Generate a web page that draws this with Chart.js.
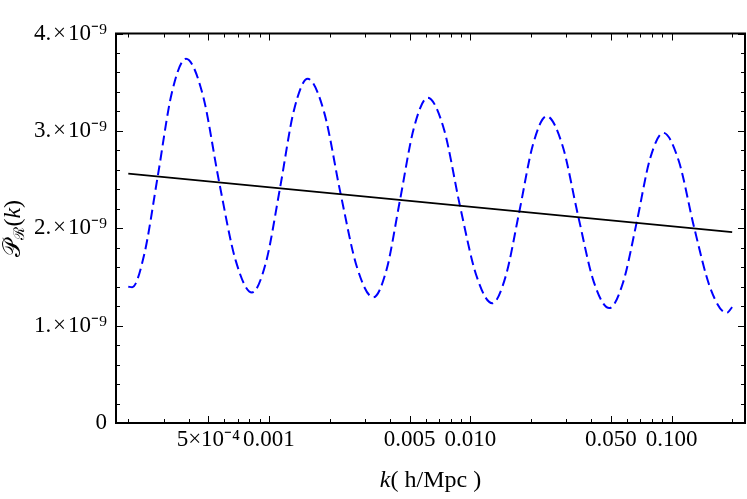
<!DOCTYPE html>
<html>
<head>
<meta charset="utf-8">
<script src="https://cdn.jsdelivr.net/npm/chart.js@4.4.1/dist/chart.umd.min.js"></script>
<style>
  html,body{margin:0;padding:0;background:#fff}
  #wrap{width:747px;height:499px}
</style>
</head>
<body>
<div id="wrap"><canvas id="c" width="747" height="499"></canvas></div>
<script>
// oscillating spectrum (blue dashed)
const kOsc = [2.0e-4, 2.09e-4, 2.40e-4, 2.80e-4, 3.29e-4, 3.87e-4, 4.69e-4, 5.66e-4, 6.83e-4, 8.23e-4,
  9.66e-4, 1.134e-3, 1.330e-3, 1.557e-3, 1.880e-3, 2.271e-3, 2.736e-3, 3.298e-3,
  3.843e-3, 4.476e-3, 5.246e-3, 6.144e-3, 7.394e-3, 8.888e-3, 1.070e-2, 1.286e-2,
  1.501e-2, 1.752e-2, 2.049e-2, 2.396e-2, 2.871e-2, 3.440e-2, 4.107e-2, 4.903e-2,
  5.736e-2, 6.708e-2, 7.809e-2, 9.095e-2, 0.1086, 0.1297, 0.1561, 0.1878, 0.2];
const pOsc = [1.40, 1.395, 1.73, 2.53, 3.39, 3.74, 3.37, 2.47, 1.67, 1.34,
  1.65, 2.41, 3.21, 3.535, 3.19, 2.35, 1.60, 1.29,
  1.58, 2.29, 3.03, 3.34, 3.02, 2.23, 1.52, 1.23,
  1.51, 2.17, 2.86, 3.15, 2.85, 2.12, 1.45, 1.18,
  1.44, 2.06, 2.71, 2.98, 2.69, 2.00, 1.38, 1.13, 1.19].map(v => v * 1e-9);

// smooth power-law spectrum (black)
const kTrend = [2e-4, 2e-3, 2e-2, 0.2];
const pTrend = [2.56e-9, 2.36e-9, 2.16e-9, 1.96e-9];

// axes
const xMajor = [5e-4, 0.001, 0.005, 0.01, 0.05, 0.1];
const xLabels = ['5×10⁻⁴', '0.001', '0.005', '0.010', '0.050', '0.100'];
const xMinor = [2e-4, 3e-4, 4e-4, 6e-4, 7e-4, 8e-4, 9e-4, 2e-3, 3e-3, 4e-3, 6e-3, 7e-3, 8e-3, 9e-3,
  0.02, 0.03, 0.04, 0.06, 0.07, 0.08, 0.09, 0.2];
const yMajor = [0, 1e-9, 2e-9, 3e-9, 4e-9];
const yLabels = ['0', '1.\u200a×\u200a10⁻⁹', '2.\u200a×\u200a10⁻⁹', '3.\u200a×\u200a10⁻⁹', '4.\u200a×\u200a10⁻⁹'];
const yMinor = [2e-10, 4e-10, 6e-10, 8e-10, 1.2e-9, 1.4e-9, 1.6e-9, 1.8e-9, 2.2e-9, 2.4e-9, 2.6e-9,
  2.8e-9, 3.2e-9, 3.4e-9, 3.6e-9, 3.8e-9];
const xMin = 1.738e-4, xMax = 0.2316;

(function(){
  const FONT = '"Liberation Serif", "Times New Roman", serif';

  function near(a, b){ return Math.abs(a - b) <= Math.abs(b) * 1e-6 + 1e-15; }
  function majorIndex(list, v){ return list.findIndex(m => near(v, m)); }
  function allTicks(major, minor){ return major.concat(minor).sort((a,b)=>a-b).map(v=>({value:v})); }

  // inward ticks on all four sides + frame + axis titles
  const frame = {
    id: 'frame',
    afterDraw(chart){
      const {ctx, chartArea: a, scales: {x, y}} = chart;
      ctx.save();
      ctx.strokeStyle = '#000';
      ctx.lineWidth = 1;
      ctx.beginPath();
      x.ticks.forEach(t => {
        const px = Math.round(x.getPixelForValue(t.value)) + 0.5;
        const len = majorIndex(xMajor, t.value) >= 0 ? 7 : 4;
        ctx.moveTo(px, a.bottom); ctx.lineTo(px, a.bottom - len);
        ctx.moveTo(px, a.top); ctx.lineTo(px, a.top + len);
      });
      y.ticks.forEach(t => {
        const py = Math.round(y.getPixelForValue(t.value)) + 0.5;
        const len = majorIndex(yMajor, t.value) >= 0 ? 7 : 4;
        ctx.moveTo(a.left, py); ctx.lineTo(a.left + len, py);
        ctx.moveTo(a.right, py); ctx.lineTo(a.right - len, py);
      });
      ctx.stroke();
      ctx.lineWidth = 2;
      ctx.strokeRect(a.left, a.top, a.right - a.left, a.bottom - a.top);

      // x title: k( h/Mpc )
      ctx.fillStyle = '#000';
      ctx.textBaseline = 'middle';
      ctx.textAlign = 'left';
      ctx.font = 'italic 24px ' + FONT;
      const wk = ctx.measureText('k').width;
      ctx.font = '24px ' + FONT;
      const wr = ctx.measureText('( h/Mpc )').width;
      let sx = (a.left + a.right) / 2 - (wk + wr) / 2;
      ctx.font = 'italic 24px ' + FONT;
      ctx.fillText('k', sx, 481);
      ctx.font = '24px ' + FONT;
      ctx.fillText('( h/Mpc )', sx + wk, 481);

      // y title: P_R(k), rotated
      ctx.translate(14, (a.top + a.bottom) / 2);
      ctx.rotate(-Math.PI / 2);
      const parts = [
        {t:'𝒫', f:'24px ' + FONT, dy:0},
        {t:'ℛ', f:'15px ' + FONT, dy:6},
        {t:'(', f:'24px ' + FONT, dy:0},
        {t:'k', f:'italic 24px ' + FONT, dy:0},
        {t:')', f:'24px ' + FONT, dy:0}
      ];
      let tw = 0;
      parts.forEach(p => { ctx.font = p.f; p.w = ctx.measureText(p.t).width; tw += p.w; });
      let cx = -tw / 2;
      parts.forEach(p => { ctx.font = p.f; ctx.fillText(p.t, cx, p.dy); cx += p.w; });
      ctx.restore();
    }
  };

  new Chart(document.getElementById('c'), {
    type: 'line',
    data: {
      datasets: [
        { data: kTrend.map((k,i)=>({x:k, y:pTrend[i]})), borderColor:'#000', borderWidth:1.8,
          pointRadius:0, tension:0, fill:false },
        { data: kOsc.map((k,i)=>({x:k, y:pOsc[i]})), borderColor:'#0000ff', borderWidth:2,
          borderDash:[10,5], pointRadius:0, cubicInterpolationMode:'monotone', fill:false }
      ]
    },
    options: {
      responsive: false,
      animation: false,
      devicePixelRatio: 1,
      layout: { padding: { top: 33.5, right: 2, bottom: 0, left: 0 } },
      plugins: { legend:{display:false}, tooltip:{enabled:false} },
      scales: {
        x: {
          type: 'logarithmic', min: xMin, max: xMax,
          grid: { display:false, drawTicks:false }, border: { display:false },
          afterBuildTicks: s => { s.ticks = allTicks(xMajor, xMinor); },
          afterFit: s => { s.height = 76; },
          ticks: {
            autoSkip:false, maxRotation:0, padding:3, color:'#000',
            font: { family: FONT, size: 23 },
            callback: v => { const i = majorIndex(xMajor, v); return i >= 0 ? xLabels[i] : ''; }
          }
        },
        y: {
          type: 'linear', min: 0, max: 4e-9,
          grid: { display:false, drawTicks:false }, border: { display:false },
          afterBuildTicks: s => { s.ticks = allTicks(yMajor, yMinor); },
          afterFit: s => { s.width = 116; },
          ticks: {
            autoSkip:false, padding:9, color:'#000',
            font: { family: FONT, size: 23 },
            callback: v => { const i = majorIndex(yMajor, v); return i >= 0 ? yLabels[i] : ''; }
          }
        }
      }
    },
    plugins: [frame]
  });
})();
</script>
</body>
</html>
